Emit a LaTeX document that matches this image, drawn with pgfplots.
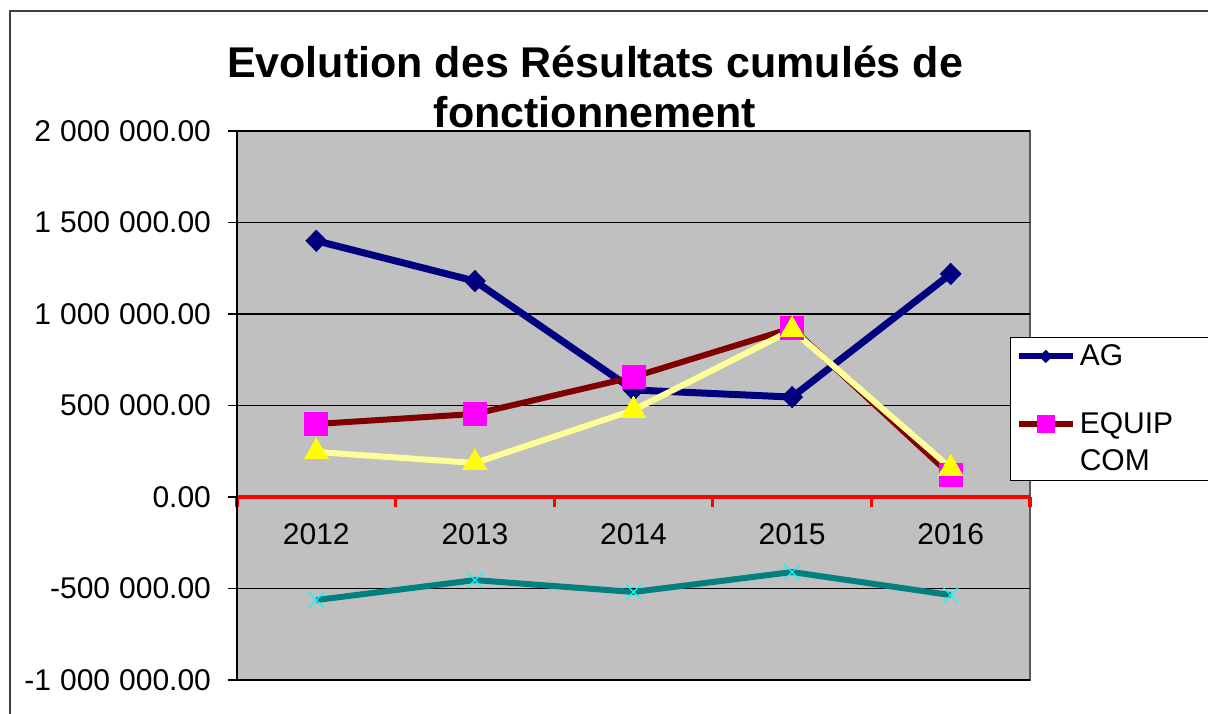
\documentclass[border=0pt]{standalone}
\usepackage{pgfplots}
\pgfplotsset{compat=1.18}
\usepackage{fontspec}
\setmainfont{Liberation Sans}

\definecolor{agblue}{RGB}{0,0,128}
\definecolor{eqmaroon}{RGB}{128,0,0}
\definecolor{eqmagenta}{RGB}{255,0,255}
\definecolor{lightyel}{RGB}{255,255,153}
\definecolor{triyel}{RGB}{255,255,0}
\definecolor{tealline}{RGB}{0,128,128}
\definecolor{xcyan}{RGB}{0,255,255}
\definecolor{plotgray}{RGB}{192,192,192}

\begin{document}
\begin{tikzpicture}
\begin{axis}[
    name=ax,
    scale only axis,
    width=396.5pt, height=274.5pt,
    xmin=-0.5, xmax=4.5,
    ymin=-1000000, ymax=2000000,
    ytick={-1000000,-500000,0,500000,1000000,1500000,2000000},
    xtick={0,1,2,3,4},
    xticklabels={2012,2013,2014,2015,2016},
    minor xtick={-0.5,0.5,1.5,2.5,3.5,4.5},
    axis x line*=middle,
    axis y line*=left,
    x axis line style={red, line width=2pt, -},
    y axis line style={black, line width=0.8pt, -},
    axis background/.style={fill=plotgray, draw=gray!70!black, line width=0.8pt},
    tick align=outside,
    major tick length=4.5pt,
    minor tick length=5pt,
    major x tick style={draw=none},
    minor x tick style={red, line width=1.6pt},
    ytick style={black, line width=0.6pt},
    ymajorgrids,
    major grid style={black, line width=0.6pt},
    scaled y ticks=false,
    tick label style={font=\fontsize{15}{18}\selectfont},
    yticklabel style={xshift=-5pt},
    xticklabel style={yshift=-5pt},
    /pgf/number format/.cd, fixed, fixed zerofill, precision=2,
      1000 sep={\hspace{0.3em}}, assume math mode=true,
    /pgfplots/.cd,
    legend style={at={(axis description cs:0.975,0.625)}, anchor=north west,
      draw=black, fill=white, line width=0.6pt,
      font=\fontsize{15}{18.5}\selectfont,
      inner xsep=2.5pt, inner ysep=1.5pt, row sep=18pt,
      cells={align=left}},
    legend cell align=left,
    legend image code/.code={
      \draw[mark repeat=2, mark phase=2] plot coordinates {(0pt,0pt) (13.5pt,0pt) (27pt,0pt)};
    },
]
\addplot[agblue, line width=3.5pt, mark=diamond*, mark size=5.25pt,
    mark options={solid, xscale=1.3, fill=agblue, line width=0.5pt},
    legend image post style={mark size=3pt, line width=3pt}]
    coordinates {(0,1400000) (1,1180000) (2,585000) (3,546000) (4,1219000)};
\addlegendentry{\makebox[100pt][l]{AG}}
\addplot[eqmaroon, line width=3pt, mark=square*, mark size=5.75pt,
    mark options={solid, fill=eqmagenta, draw=eqmagenta, line width=0pt},
    legend image post style={mark size=4.25pt, yshift=9.25pt}]
    coordinates {(0,399000) (1,454000) (2,656000) (3,923000) (4,120000)};
\addlegendentry{EQUIP\\COM}
\addplot[lightyel, line width=3pt, mark=triangle*, mark size=7pt,
    mark options={solid, fill=triyel, draw=triyel, line width=0pt}]
    coordinates {(0,246000) (1,186000) (2,475000) (3,913000) (4,158000)};
\addplot[tealline, line width=3pt, mark=x, mark size=5.5pt,
    mark options={solid, xcyan, line width=0.6pt}]
    coordinates {(0,-563000) (1,-454000) (2,-519000) (3,-410000) (4,-536000)};
\end{axis}
\draw[gray!50!black, line width=0.8pt]
    ([shift={(-113.5pt,-20pt)}]ax.south west) -- ([shift={(-113.5pt,334.5pt)}]ax.south west)
    -- ([shift={(490pt,334.5pt)}]ax.south west);
\node[align=center, font=\fontsize{21.5}{25}\selectfont\bfseries]
    at ([shift={(179pt,296.5pt)}]ax.south west)
    {Evolution des Résultats cumulés de\\fonctionnement};
\pgfresetboundingbox
\path[use as bounding box] ([shift={(-118.5pt,-16.5pt)}]ax.south west)
    rectangle ([shift={(485.5pt,340pt)}]ax.south west);
\end{tikzpicture}
\end{document}
